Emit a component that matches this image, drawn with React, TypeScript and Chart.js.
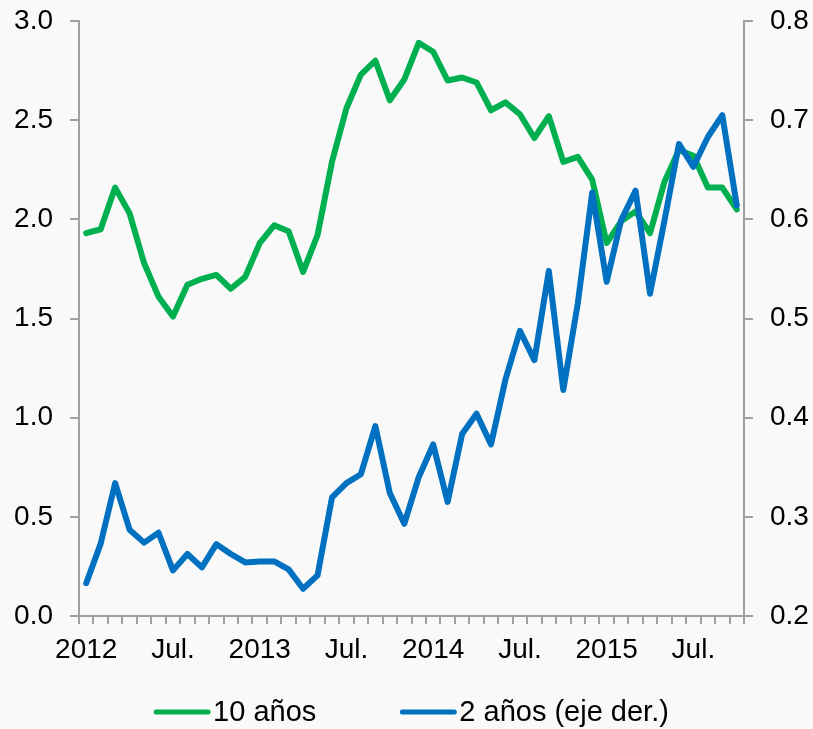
import React, { useEffect, useRef } from "react";
import { Chart, registerables } from "chart.js";

Chart.register(...registerables);

// Monthly observations, Jan 2012 .. Oct 2015
const tickLabels = [
  "2012", "", "", "", "", "", "Jul.", "", "", "", "", "",
  "2013", "", "", "", "", "", "Jul.", "", "", "", "", "",
  "2014", "", "", "", "", "", "Jul.", "", "", "", "", "",
  "2015", "", "", "", "", "", "Jul.", "", "", "",
];

const tenYear = [
  1.93, 1.95, 2.16, 2.03, 1.78, 1.61, 1.51, 1.67, 1.70, 1.72, 1.65, 1.71,
  1.88, 1.97, 1.94, 1.735, 1.92, 2.29, 2.56, 2.73, 2.80, 2.60, 2.705, 2.89,
  2.845, 2.70, 2.715, 2.69, 2.55, 2.59, 2.53, 2.41, 2.52, 2.29, 2.315, 2.20,
  1.88, 1.99, 2.04, 1.93, 2.19, 2.35, 2.32, 2.16, 2.16, 2.05,
];

const twoYear = [
  0.233, 0.273, 0.334, 0.287, 0.274, 0.284, 0.246, 0.2625, 0.249, 0.2725, 0.2625, 0.254,
  0.255, 0.255, 0.247, 0.2275, 0.241, 0.3195, 0.334, 0.343, 0.3915, 0.324, 0.293, 0.340,
  0.373, 0.315, 0.3835, 0.404, 0.373, 0.4385, 0.4875, 0.458, 0.548, 0.428, 0.515, 0.627,
  0.537, 0.599, 0.629, 0.525, 0.599, 0.676, 0.653, 0.683, 0.705, 0.614,
];

const seriesNames = ["10 años", "2 años (eje der.)"];
const seriesColors = ["#00b050", "#0070c0"];

const FONT = "'Liberation Sans', Arial, sans-serif";
const AXIS_COLOR = "#a0a0a0";

const legendPlugin = {
  id: "customLegend",
  afterDraw(chart: any) {
    const ctx = chart.ctx;
    const ds = chart.data.datasets;
    ctx.save();
    ctx.font = `29px ${FONT}`;
    ctx.textBaseline = "middle";
    ctx.textAlign = "left";
    const lineLen = 56;
    const gap = 3;
    const itemGap = 84;
    const widths = ds.map((d: any) => ctx.measureText(d.label).width);
    let total = 0;
    widths.forEach((w: number, i: number) => {
      total += lineLen + gap + w + (i < widths.length - 1 ? itemGap : 0);
    });
    const ca = chart.chartArea;
    let x = (ca.left + ca.right) / 2 - total / 2;
    const y = 713;
    ds.forEach((d: any, i: number) => {
      ctx.strokeStyle = d.borderColor;
      ctx.lineWidth = 5;
      ctx.lineCap = "round";
      ctx.beginPath();
      ctx.moveTo(x + 2, y - 1);
      ctx.lineTo(x + lineLen - 2, y - 1);
      ctx.stroke();
      ctx.fillStyle = "#000";
      ctx.fillText(d.label, x + lineLen + gap, y);
      x += lineLen + gap + widths[i] + itemGap;
    });
    ctx.restore();
  },
};

const bgPlugin = {
  id: "bg",
  beforeDraw(chart: any) {
    const ctx = chart.ctx;
    ctx.save();
    ctx.fillStyle = "#f9f9f9";
    ctx.fillRect(0, 0, chart.width, chart.height);
    ctx.restore();
  },
};

export default function App() {
  const ref = useRef<HTMLCanvasElement | null>(null);
  useEffect(() => {
    if (!ref.current) return;
    const tickFont = { family: FONT, size: 28 };
    const chart = new Chart(ref.current, {
      type: "line",
      data: {
        labels: tickLabels.map((l, i) => (l ? l : "m" + i)),
        datasets: [
          {
            label: seriesNames[0],
            data: tenYear,
            borderColor: seriesColors[0],
            backgroundColor: seriesColors[0],
            borderWidth: 6,
            pointRadius: 0,
            tension: 0,
            borderJoinStyle: "round",
            borderCapStyle: "round",
            yAxisID: "y",
            order: 1,
          },
          {
            label: seriesNames[1],
            data: twoYear,
            borderColor: seriesColors[1],
            backgroundColor: seriesColors[1],
            borderWidth: 6,
            pointRadius: 0,
            tension: 0,
            borderJoinStyle: "round",
            borderCapStyle: "round",
            yAxisID: "y2",
            order: 0,
          },
        ],
      },
      options: {
        animation: false,
        responsive: false,
        devicePixelRatio: 1,
        layout: { padding: { top: 21, bottom: 63, left: 0, right: 0 } },
        plugins: {
          legend: { display: false },
          tooltip: { enabled: false },
        },
        scales: {
          x: {
            type: "category",
            offset: true,
            grid: {
              offset: true,
              drawOnChartArea: false,
              drawTicks: true,
              tickLength: 8,
              color: AXIS_COLOR,
              lineWidth: 2,
            },
            border: { display: true, color: AXIS_COLOR, width: 2 },
            ticks: {
              autoSkip: false,
              maxRotation: 0,
              minRotation: 0,
              padding: 9,
              color: "#000",
              font: tickFont,
              callback: (_v: any, i: number) => tickLabels[i],
            },
            afterFit: (s: any) => {
              s.height = 50;
              s.paddingLeft = 0;
              s.paddingRight = 0;
            },
          },
          y: {
            position: "left",
            min: 0,
            max: 3,
            grid: {
              drawOnChartArea: false,
              drawTicks: true,
              tickLength: 9,
              color: AXIS_COLOR,
              lineWidth: 2,
            },
            border: { display: true, color: AXIS_COLOR, width: 2 },
            ticks: {
              stepSize: 0.5,
              padding: 17,
              color: "#000",
              font: tickFont,
              callback: (v: any) => Number(v).toFixed(1),
            },
            afterFit: (s: any) => {
              s.width = 79;
              s.paddingTop = 0;
              s.paddingBottom = 0;
            },
          },
          y2: {
            position: "right",
            min: 0.2,
            max: 0.8,
            grid: {
              drawOnChartArea: false,
              drawTicks: true,
              tickLength: 9,
              color: AXIS_COLOR,
              lineWidth: 2,
            },
            border: { display: true, color: AXIS_COLOR, width: 2 },
            ticks: {
              stepSize: 0.1,
              padding: 17,
              color: "#000",
              font: tickFont,
              callback: (v: any) => Number(v).toFixed(1),
            },
            afterFit: (s: any) => {
              s.width = 69;
              s.paddingTop = 0;
              s.paddingBottom = 0;
            },
          },
        },
      },
      plugins: [bgPlugin, legendPlugin],
    });
    return () => chart.destroy();
  }, []);

  return (
    <div style={{ position: "fixed", left: 0, top: 0, width: 813, height: 729, background: "#f9f9f9" }}>
      <canvas ref={ref} width={813} height={729} style={{ display: "block", width: 813, height: 729 }} />
    </div>
  );
}
